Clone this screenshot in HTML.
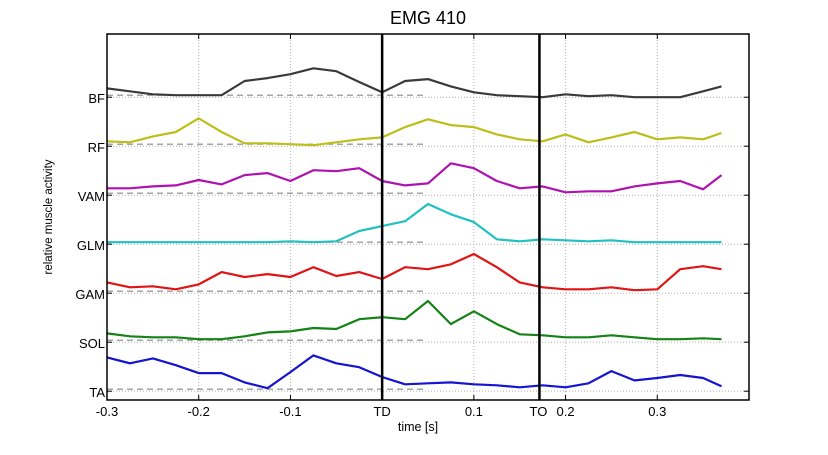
<!DOCTYPE html>
<html><head><meta charset="utf-8"><style>
html,body{margin:0;padding:0;background:#fff}
svg text{font-family:"Liberation Sans",Arial,sans-serif}
</style></head><body>
<svg id="chart" width="828" height="450" viewBox="0 0 828 450" xmlns="http://www.w3.org/2000/svg"></svg>
<script>
const times = [-0.3,-0.275,-0.25,-0.225,-0.2,-0.175,-0.15,-0.125,-0.1,-0.075,-0.05,-0.025,0,0.025,0.05,0.075,0.1,0.125,0.15,0.175,0.2,0.225,0.25,0.275,0.3,0.325,0.35,0.37];
const muscles = ["BF","RF","VAM","GLM","GAM","SOL","TA"];
const lanes = [7,6,5,4,3,2,1];
const colors = ["#3a3a3a","#bebe1a","#b012b0","#22c0c0","#e01414","#148214","#1414d2"];
const bfVals  = [.18,.12,.06,.04,.04,.04,.33,.39,.47,.59,.53,.31,.10,.33,.37,.22,.10,.04,.02,0,.06,.02,.04,0,0,0,.12,.22];
const rfVals  = [.10,.08,.20,.29,.57,.29,.06,.06,.04,.02,.08,.14,.18,.39,.55,.43,.39,.24,.14,.10,.24,.08,.18,.29,.14,.18,.14,.27];
const vamVals = [.14,.14,.18,.20,.31,.22,.41,.45,.29,.51,.49,.55,.29,.20,.24,.65,.55,.29,.14,.18,.06,.08,.08,.18,.24,.29,.12,.41];
const glmVals = [.04,.04,.04,.04,.04,.04,.04,.04,.06,.04,.06,.27,.37,.47,.82,.61,.45,.10,.06,.10,.08,.06,.08,.04,.04,.04,.04,.04];
const gamVals = [.22,.12,.14,.08,.18,.43,.33,.39,.33,.53,.35,.43,.29,.53,.49,.59,.80,.53,.22,.12,.08,.08,.12,.06,.08,.49,.55,.49];
const solVals = [.18,.12,.10,.10,.06,.06,.12,.20,.22,.29,.27,.47,.51,.47,.84,.37,.63,.37,.16,.14,.10,.10,.14,.10,.06,.06,.08,.06];
const taVals  = [.69,.57,.67,.53,.37,.37,.18,.06,.39,.73,.57,.49,.29,.14,.16,.18,.14,.12,.08,.12,.08,.16,.41,.22,.27,.33,.27,.10];
const seriesVals = [bfVals,rfVals,vamVals,glmVals,gamVals,solVals,taVals];
const xTicks = [-0.3,-0.2,-0.1,0,0.1,0.2,0.3];
const xTickLabels = ["-0.3","-0.2","-0.1","TD","0.1","0.2","0.3"];
const events = [0,0.1715];
const eventLabels = ["TD","TO"];

const L=107,R=749,T=34,B=400, xMin=-0.3,xMax=0.4, yMin=0.82,yMax=8.29;
const X=v=>L+(v-xMin)/(xMax-xMin)*(R-L);
const Y=v=>B-(v-yMin)/(yMax-yMin)*(B-T);
const svg=document.getElementById('chart');
const NS='http://www.w3.org/2000/svg';
function mk(tag,attrs,parent){const e=document.createElementNS(NS,tag);for(const k in attrs)e.setAttribute(k,attrs[k]);(parent||svg).appendChild(e);return e;}

xTicks.forEach((t,i)=>{ if(t===0) return;
  const g=mk('line',{x1:X(t),x2:X(t),y1:T,y2:B,stroke:'#b0b0b0','stroke-width':1,'stroke-dasharray':'1,2'});
  
  
});
lanes.forEach(l=>{
  const g=mk('line',{x1:L,x2:R,y1:Y(l),y2:Y(l),stroke:'#b0b0b0','stroke-width':1,'stroke-dasharray':'1,2'});
  
  
  const d=mk('line',{x1:X(-0.3),x2:X(0.049),y1:Y(l)-2,y2:Y(l)-2,stroke:'#888','stroke-width':1.2,'stroke-dasharray':'6,4'});
  
  
});
seriesVals.forEach((vals,si)=>{
  const pts=vals.map((v,i)=>X(times[i]).toFixed(1)+','+Y(lanes[si]+v).toFixed(1)).join(' ');
  const p=mk('polyline',{points:pts,fill:'none',stroke:colors[si],'stroke-width':2.2,'stroke-linejoin':'round'});
  
  
});
events.forEach((t,i)=>{
  const e=mk('line',{x1:X(t),x2:X(t),y1:T,y2:B,stroke:'#000','stroke-width':2.5});
  
  
});
const f=mk('rect',{x:L,y:T,width:R-L,height:B-T,fill:'none',stroke:'#000','stroke-width':1.5});


xTicks.forEach((t,i)=>{
  mk('line',{x1:X(t),x2:X(t),y1:B,y2:B-5,stroke:'#000'});
  mk('line',{x1:X(t),x2:X(t),y1:T,y2:T+5,stroke:'#000'});
  const tx=mk('text',{x:X(t),y:B+16,'text-anchor':'middle','font-size':13});
  tx.textContent=xTickLabels[i];
  
  
});
const to=mk('text',{x:X(events[1])-1,y:B+16,'text-anchor':'middle','font-size':13});
to.textContent=eventLabels[1];


lanes.forEach((l,i)=>{
  mk('line',{x1:L,x2:L+5,y1:Y(l),y2:Y(l),stroke:'#000'});
  mk('line',{x1:R,x2:R-5,y1:Y(l),y2:Y(l),stroke:'#000'});
  const tx=mk('text',{x:L-2,y:Y(l)+6,'text-anchor':'end','font-size':13});
  tx.textContent=muscles[i];
  
  
});
const title=mk('text',{x:428,y:24,'text-anchor':'middle','font-size':18});
title.textContent='EMG 410';


const xl=mk('text',{x:418,y:431,'text-anchor':'middle','font-size':12.5});
xl.textContent='time [s]';


const yl=mk('text',{x:0,y:0,'text-anchor':'middle','font-size':11.5,transform:'translate(52,217) rotate(-90)'});
yl.textContent='relative muscle activity';


</script>
</body></html>
